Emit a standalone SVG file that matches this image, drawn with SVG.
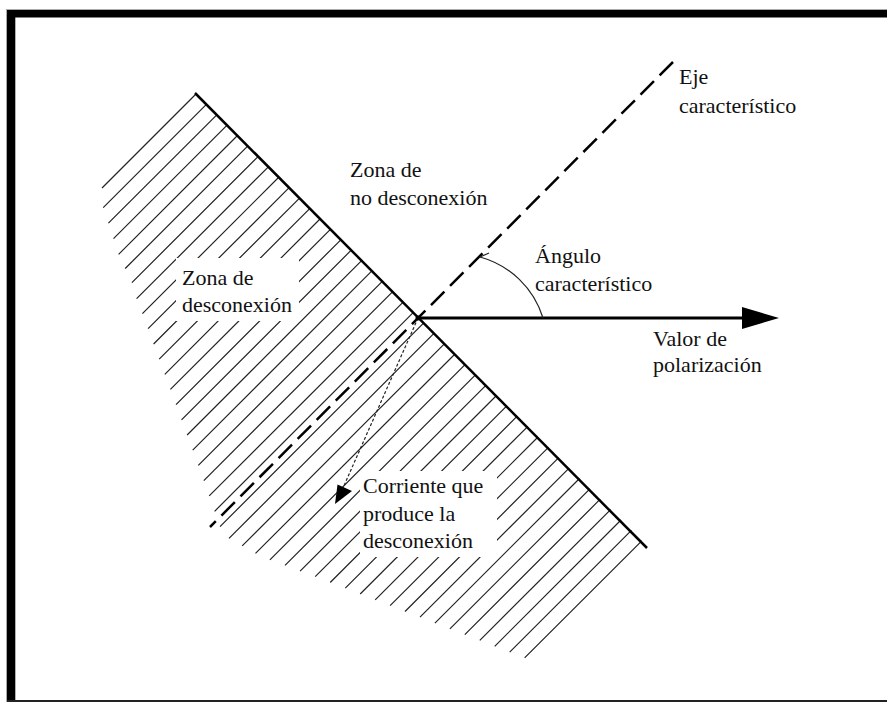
<svg xmlns="http://www.w3.org/2000/svg" width="887" height="702" viewBox="0 0 887 702">
<style>
.lbl{font-family:"Liberation Serif","Times New Roman",serif;font-size:22px;fill:#111}
.hatch{fill:none;stroke:#222;stroke-width:1.2}
.bnd{fill:none;stroke:#000;stroke-width:2.5}
.axis{fill:none;stroke:#000;stroke-width:2.5;stroke-dasharray:19 8}
.pol{fill:none;stroke:#000;stroke-width:3}
.cur{fill:none;stroke:#222;stroke-width:1.2;stroke-dasharray:3 2}
.arc{fill:none;stroke:#222;stroke-width:1.2}
.mask{fill:#fff}
</style>
<rect width="887" height="702" fill="#fff"/>
<g id="frame">
<rect x="7" y="10" width="880" height="7.5" fill="#000"/>
<rect x="7" y="10" width="8.3" height="692" fill="#000"/>
<rect x="7" y="700" width="880" height="2" fill="#222"/>
<line x1="6" y1="9.5" x2="887" y2="9.5" stroke="#aaa" stroke-width="1"/>
<line x1="6.5" y1="9" x2="6.5" y2="702" stroke="#aaa" stroke-width="1"/>
</g>
<g id="zona-desconexion-region">
<path class="hatch" d="M195.5,94.5L102,188M205.9,104.9L103.2,207.6M216.3,115.3L108.4,223.1M226.6,125.6L113.5,238.7M237,136L118.6,254.4M247.4,146.4L125.2,268.5M257.8,156.8L131.9,282.6M268.1,167.1L136.6,298.7M278.5,177.5L142.4,313.6M288.9,187.9L148.1,328.7M299.3,198.3L153.6,344M309.7,208.7L159.2,359.1M320,219L164.8,374.3M330.4,229.4L170.4,389.4M340.8,239.8L176,404.6M351.2,250.2L181.5,419.8M361.6,260.6L187.1,435M371.9,270.9L192.7,450.2M382.3,281.3L198.3,465.3M392.7,291.7L203.8,480.6M403.1,302.1L209.2,495.9M413.4,312.4L214.6,511.3M423.8,322.8L220,526.6M434.2,333.2L229,538.4M444.6,343.6L242.2,545.9M455,354L255.5,553.4M465.3,364.3L269.9,559.8M475.7,374.7L285,565.4M486.1,385.1L300.1,571.1M496.5,395.5L315.2,576.7M506.8,405.8L330.2,582.5M517.2,416.2L345.3,588.1M527.6,426.6L360.2,594M538,437L375.2,599.8M548.4,447.4L390.1,605.6M558.7,457.7L405,611.5M569.1,468.1L420,617.2M579.5,478.5L434.9,623.1M589.9,488.9L449.9,628.8M600.2,499.2L464.8,634.7M610.6,509.6L479.8,640.4M621,520L494.7,646.3M631.4,530.4L509.7,652.1M641.8,540.8L524.6,657.9"/>
<rect class="mask" x="176" y="258" width="123" height="63"/>
<rect class="mask" x="360" y="471" width="137" height="86"/>
</g>
<g id="boundary">
<line class="bnd" x1="195" y1="93" x2="647" y2="548"/>
</g>
<g id="connectors">
<line id="eje" class="axis" x1="673" y1="62" x2="210" y2="527"/>
<line id="valor-polarizacion" class="pol" x1="418" y1="318" x2="746" y2="318"/>
<polygon points="742,307 779,318 742,329" fill="#000"/>
<line id="corriente" class="cur" x1="418" y1="318" x2="343" y2="488"/>
<polygon points="335,504 337.5,484.5 352,491" fill="#000"/>
<path id="angulo" class="arc" d="M480,257 A91,91 0 0,1 543,318"/>
<line class="arc" x1="480" y1="257" x2="489" y2="253"/>
<circle cx="418" cy="318" r="2.5" fill="#000"/>
</g>
<g id="label-no-desconexion">
<text class="lbl" x="350" y="177">Zona de</text>
<text class="lbl" x="350" y="205">no desconexión</text>
</g>
<g id="label-desconexion">
<text class="lbl" x="182" y="285">Zona de</text>
<text class="lbl" x="182" y="312">desconexión</text>
</g>
<g id="label-eje">
<text class="lbl" x="679" y="84">Eje</text>
<text class="lbl" x="679" y="113">característico</text>
</g>
<g id="label-angulo">
<text class="lbl" x="535" y="263">Ángulo</text>
<text class="lbl" x="535" y="291">característico</text>
</g>
<g id="label-valor">
<text class="lbl" x="653" y="346">Valor de</text>
<text class="lbl" x="653" y="372">polarización</text>
</g>
<g id="label-corriente">
<text class="lbl" x="363" y="493">Corriente que</text>
<text class="lbl" x="363" y="521">produce la</text>
<text class="lbl" x="363" y="548">desconexión</text>
</g>
</svg>
